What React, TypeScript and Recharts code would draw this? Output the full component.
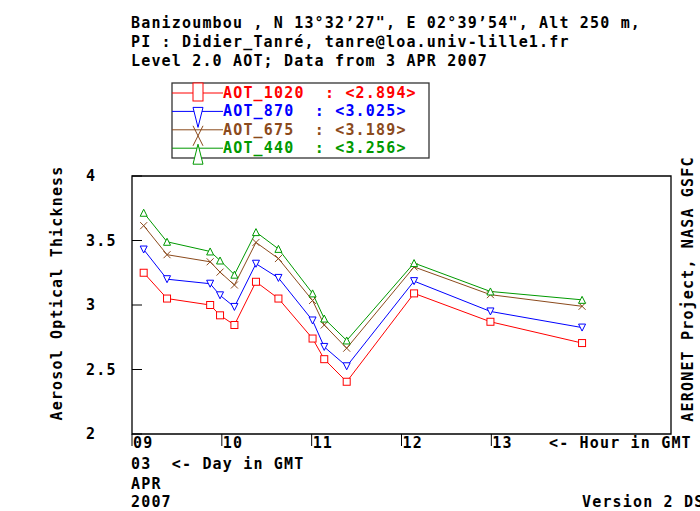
import { LineChart, Line, XAxis, YAxis, ReferenceArea } from 'recharts';

const hours = [9.13, 9.39, 9.87, 9.98, 10.14, 10.38, 10.63, 11.01, 11.14, 11.39, 12.14, 12.99, 14.01];
const aot1020 = [3.25, 3.05, 3.0, 2.92, 2.845, 3.18, 3.05, 2.74, 2.58, 2.405, 3.09, 2.87, 2.705];
const aot870 = [3.43, 3.2, 3.165, 3.075, 2.985, 3.32, 3.21, 2.88, 2.675, 2.525, 3.185, 2.95, 2.825];
const aot675 = [3.615, 3.39, 3.335, 3.255, 3.155, 3.485, 3.36, 3.035, 2.845, 2.665, 3.295, 3.08, 2.99];
const aot440 = [3.715, 3.49, 3.415, 3.345, 3.235, 3.565, 3.435, 3.09, 2.895, 2.725, 3.325, 3.105, 3.04];

const xTicks = [9, 10, 11, 12, 13];
const yTicks = [2, 2.5, 3, 3.5, 4];

const seriesNames = ['AOT_1020', 'AOT_870', 'AOT_675', 'AOT_440'];
const seriesKeys = ['aot1020', 'aot870', 'aot675', 'aot440'];
const seriesMeans = ['2.894', '3.025', '3.189', '3.256'];
const COLORS = ['#ff0000', '#0000ff', '#8b4a1c', '#009900'];

const titleLines = [
    'Banizoumbou , N 13°32’27", E 02°39’54", Alt 250 m,',
    'PI : Didier_Tanré, tanre@loa.univ-lille1.fr',
    'Level 2.0 AOT; Data from 3 APR 2007',
];

const data = hours.map((h, i) => ({
    hour: h,
    aot1020: aot1020[i],
    aot870: aot870[i],
    aot675: aot675[i],
    aot440: aot440[i],
}));

const FONT = {
    fontFamily: '"DejaVu Sans Mono", monospace',
    fontWeight: 'bold' as const,
    fontSize: 15,
    letterSpacing: 1.17,
};

function Marker({ kind, cx, cy, color, w = 3.5, h = 3.5 }: { kind: number; cx: number; cy: number; color: string; w?: number; h?: number }) {
    if (kind === 0) {
        return <rect x={cx - w} y={cy - h} width={w * 2} height={h * 2} fill="#fff" stroke={color} strokeWidth={1} />;
    }
    if (kind === 1) {
        return <polygon points={`${cx - w},${cy - h} ${cx + w},${cy - h} ${cx},${cy + h}`} fill="#fff" stroke={color} strokeWidth={1} />;
    }
    if (kind === 2) {
        return (
            <g stroke={color} strokeWidth={1}>
                <line x1={cx - w} y1={cy - h} x2={cx + w} y2={cy + h} />
                <line x1={cx - w} y1={cy + h} x2={cx + w} y2={cy - h} />
            </g>
        );
    }
    return <polygon points={`${cx},${cy - h} ${cx - w},${cy + h} ${cx + w},${cy + h}`} fill="#fff" stroke={color} strokeWidth={1} />;
}

function XTick(props: any) {
    const { x, y, payload } = props;
    return (
        <g>
            <line x1={x} y1={y} x2={x} y2={y + 12} stroke="#000" strokeWidth={1} />
            <text x={x + 1} y={y + 14} style={FONT} fill="#000">
                {String(payload.value).padStart(2, '0')}
            </text>
        </g>
    );
}

function YTick(props: any) {
    const { x, y, payload } = props;
    return (
        <g>
            <line x1={x} y1={y} x2={x + 10} y2={y} stroke="#000" strokeWidth={1} />
            <text x={x - 46} y={y + 5} style={FONT} fill="#000">
                {payload.value}
            </text>
        </g>
    );
}

export default function App() {
    return (
        <div style={{ position: 'fixed', left: 0, top: 0, width: 700, height: 511, background: '#fff', overflow: 'hidden' }}>
            <LineChart width={700} height={511} data={data} margin={{ top: 176, right: 29, bottom: 47, left: 86 }}>
                <XAxis
                    dataKey="hour"
                    type="number"
                    domain={[9, 15]}
                    ticks={xTicks}
                    interval={0}
                    axisLine={false}
                    tickLine={false}
                    tickSize={0}
                    tickMargin={0}
                    height={30}
                    tick={<XTick />}
                />
                <YAxis
                    type="number"
                    domain={[2, 4]}
                    ticks={yTicks}
                    interval={0}
                    axisLine={false}
                    tickLine={false}
                    tickSize={0}
                    tickMargin={0}
                    width={46}
                    tick={<YTick />}
                />
                <ReferenceArea x1={9} x2={15} y1={2} y2={4} fill="#fff" fillOpacity={0} stroke="#000" strokeWidth={1.3} />
                {seriesKeys.map((k, si) => (
                    <Line
                        key={k}
                        dataKey={k}
                        type="linear"
                        stroke={COLORS[si]}
                        strokeWidth={1}
                        isAnimationActive={false}
                        activeDot={false}
                        dot={(p: any) => <Marker key={`${k}-${p.index}`} kind={si} cx={p.cx} cy={p.cy} color={COLORS[si]} />}
                    />
                ))}
            </LineChart>
            <svg width={700} height={511} style={{ position: 'absolute', left: 0, top: 0, pointerEvents: 'none' }}>
                {titleLines.map((t, i) => (
                    <text key={i} x={131} y={28 + i * 19} style={{ ...FONT, whiteSpace: 'pre' }} fill="#000">
                        {t}
                    </text>
                ))}

                <rect x={172} y={83} width={257} height={75} fill="#fff" stroke="#333" strokeWidth={1.3} />
                {seriesNames.map((name, i) => {
                    const cy = 93 + i * 18.4;
                    return (
                        <g key={name}>
                            <line x1={172} y1={cy} x2={223} y2={cy} stroke={COLORS[i]} strokeWidth={1} />
                            <Marker kind={i} cx={198} cy={cy + (i === 0 ? -1 : 6)} color={COLORS[i]} w={5} h={i === 0 ? 9 : 10} />
                            <text x={223} y={cy + 5} style={{ ...FONT, whiteSpace: 'pre' }} fill={COLORS[i]}>
                                {`${name}  : <${seriesMeans[i]}>`}
                            </text>
                        </g>
                    );
                })}

                <text x={57} y={293} transform="rotate(-90 57 293)" textAnchor="middle" dominantBaseline="central" style={FONT} fill="#000">
                    Aerosol Optical Thickness
                </text>
                <text x={688} y={289} transform="rotate(-90 688 289)" textAnchor="middle" dominantBaseline="central" style={FONT} fill="#000">
                    AERONET Project, NASA GSFC
                </text>

                <text x={549} y={448} style={{ ...FONT, whiteSpace: 'pre' }} fill="#000">{'<- Hour in GMT'}</text>
                <text x={131} y={469} style={{ ...FONT, whiteSpace: 'pre' }} fill="#000">{'03  <- Day in GMT'}</text>
                <text x={131} y={489} style={FONT} fill="#000">APR</text>
                <text x={131} y={507} style={FONT} fill="#000">2007</text>
                <text x={582} y={507} style={{ ...FONT, whiteSpace: 'pre' }} fill="#000">Version 2 DS</text>
            </svg>
        </div>
    );
}
